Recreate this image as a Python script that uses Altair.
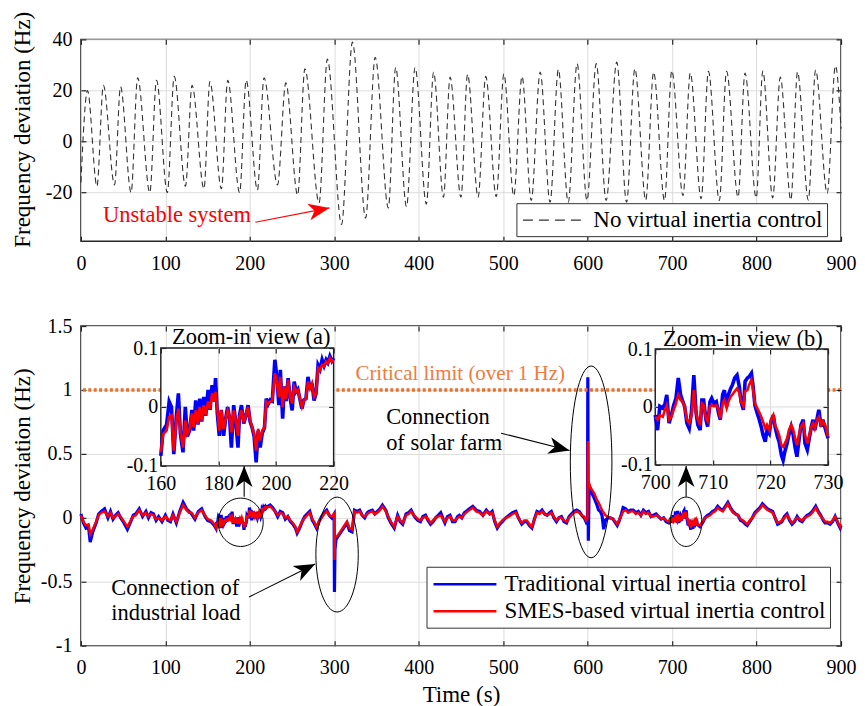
import altair as alt
import pandas as pd

FONT = "Liberation Serif"

PLOT_W = 761
TOP_H = 202
BOT_H = 320

TOP_NAME = "No virtual inertia control"
BLUE_NAME = "Traditional virtual inertia control"
RED_NAME = "SMES-based virtual inertia control"

# ---------------- top panel: peaks / troughs of the oscillation ----------------
top_time = [0, 7.8, 19, 26.6, 39.8, 46.9, 59.4, 67.2, 81.6, 89.5, 102.3, 110.5, 123.8, 131.6,
            145.7, 152.7, 166.4, 173.8, 187.9, 195.7, 209, 216.8, 232.8, 242.6, 256.6, 265.2,
            282, 291.8, 308.6, 321.5, 337.1, 348.4, 364, 372.7, 385.5, 395.7, 409, 417.6,
            429.3, 437.1, 450, 457.8, 470.3, 479.3, 491.8, 500.8, 512.5, 522.3, 533.2, 543.8,
            555.5, 565.3, 577, 587.5, 599.2, 610.2, 621.9, 634.4, 646.1, 655.9, 668.8, 678.1,
            691, 699.6, 712.9, 721.5, 734.4, 743, 755.9, 764.5, 778.1, 786.3, 799.6, 807.4,
            819.1, 828.1, 840.6, 848.5, 861.3, 869.9, 883.6, 893.4, 900]
top_freq = [-16, 20, -17.5, 22, -17, 21.5, -20, 25, -20, 24, -20, 25.5, -17.5, 22,
            -18.5, 23.5, -18.5, 24, -20, 24, -19, 25, -17, 23, -21, 28.5,
            -24, 32.3, -32.5, 39, -30, 33, -26, 29, -25.5, 29, -24.5, 27.2,
            -21.8, 25.2, -21.8, 26.3, -21.8, 25.5, -21.6, 26.5, -21.2, 25.5, -23.1, 27.2,
            -23.8, 28.2, -23.8, 30.5, -23.1, 30.5, -23.1, 31.1, -23.8, 28.5, -22.9, 27.2,
            -23.1, 27.8, -21.2, 26.8, -22.4, 27.5, -23.1, 27.5, -21.8, 26.8, -22.1, 27.6,
            -22.1, 25.2, -22.9, 27.2, -22.9, 28.0, -20.3, 29.7, 5]

# ---------------- bottom panel: traditional (blue) and SMES (red) ----------------
seg1_t = [0, 3, 6, 9, 11, 14, 18, 21, 24, 28,
          32, 35, 38, 41, 44, 47, 51, 55, 59, 62,
          65, 69, 73, 77, 80, 83, 86, 89, 92, 96,
          100, 103, 106, 109, 113, 117, 121, 125, 128, 131,
          135, 139, 143, 147, 150, 154, 158]
seg1_red = [0.02, -0.03, -0.06, -0.05, -0.13, -0.09, -0.03, 0.02, 0.04, 0.05,
            0.01, 0.04, 0.0, 0.01, 0.03, 0.01, -0.03, -0.07, -0.02, 0.01,
            0.02, 0.06, 0.02, 0.04, 0.01, 0.03, 0.02, -0.01, 0.0, -0.02,
            0.01, -0.01, -0.02, 0.02, -0.03, 0.04, 0.1, 0.06, 0.04, 0.04,
            0.0, 0.04, 0.06, 0.02, -0.01, -0.02, -0.05]
seg1_blue = [0.03, -0.04, -0.08, -0.07, -0.19, -0.11, -0.04, 0.03, 0.05, 0.07,
             0.0, 0.05, -0.01, 0.02, 0.04, 0.0, -0.04, -0.09, -0.03, 0.02,
             0.03, 0.07, 0.01, 0.05, 0.0, 0.04, 0.03, -0.02, 0.01, -0.03,
             0.02, -0.02, -0.03, 0.03, -0.04, 0.05, 0.12, 0.07, 0.05, 0.03,
             -0.01, 0.05, 0.07, 0.01, -0.02, -0.03, -0.06]

zoomA_t = [160.0, 160.8, 162.0, 162.9, 163.7, 164.5, 165.4, 166.1, 166.8, 167.7,
           168.5, 169.2, 170.0, 170.8, 171.4, 172.1, 172.9, 173.5, 174.2, 174.9,
           175.6, 176.4, 177.1, 177.8, 178.5, 179.0, 179.6, 180.3, 181.0, 181.8,
           182.5, 183.2, 183.9, 184.5, 185.3, 186.0, 186.8, 187.3, 188.0, 188.8,
           189.7, 190.3, 191.0, 191.7, 192.4, 193.1, 193.8, 194.5, 195.2, 196.0,
           196.6, 197.3, 198.0, 198.7, 199.6, 200.3, 201.0, 201.5, 202.3, 202.9,
           203.5, 204.2, 204.9, 205.6, 206.3, 207.0, 207.6, 208.3, 209.0, 209.7,
           210.4, 211.1, 211.8, 212.5, 213.2, 213.9, 214.6, 215.3, 216.0, 216.7,
           217.4, 218.0, 218.7, 219.4, 220.0]
zoomA_red = [-0.077, -0.046, -0.040, -0.017, -0.014, -0.074, -0.023, -0.003, -0.040, -0.069,
             -0.023, -0.046, -0.037, -0.011, -0.034, -0.006, -0.029, 0.0, -0.023, 0.003,
             -0.014, 0.009, -0.003, 0.023, 0.009, 0.026, -0.003, -0.040, -0.006, -0.037,
             -0.020, -0.006, -0.017, -0.043, -0.006, -0.023, -0.049, -0.017, -0.006, -0.026,
             -0.011, 0.0, -0.023, -0.034, -0.046, -0.074, -0.037, -0.057, -0.040, -0.034,
             0.009, 0.006, 0.009, 0.011, 0.057, 0.043, 0.017, 0.051, 0.0, 0.034,
             0.014, 0.046, 0.017, 0.006, 0.034, 0.026, 0.029, 0.014, 0.0, 0.011,
             0.014, 0.043, 0.031, 0.040, 0.017, 0.023, 0.066, 0.063, 0.071, 0.069,
             0.077, 0.074, 0.083, 0.077, 0.080]
zoomA_blue = [-0.083, -0.040, -0.030, 0.009, 0.0, -0.080, -0.015, 0.023, -0.045, -0.077,
              0.0, -0.050, -0.040, -0.005, -0.040, 0.011, -0.030, 0.014, -0.025, 0.017,
              -0.015, 0.029, -0.005, 0.037, 0.012, 0.049, -0.010, -0.049, -0.005, -0.049,
              -0.020, 0.0, -0.020, -0.069, 0.003, -0.025, -0.069, -0.015, 0.003, -0.028,
              -0.012, 0.003, -0.025, -0.035, -0.050, -0.094, -0.040, -0.069, -0.045, -0.035,
              0.014, 0.005, 0.012, 0.010, 0.080, 0.050, 0.003, 0.063, -0.020, 0.035,
              0.010, 0.049, 0.015, -0.006, 0.043, 0.026, 0.030, 0.013, -0.003, 0.012,
              0.014, 0.051, 0.030, 0.040, 0.011, 0.023, 0.071, 0.064, 0.080, 0.070,
              0.080, 0.075, 0.086, 0.078, 0.083]

seg2_t = [224, 227, 230, 233, 236, 239, 242, 245, 248, 251,
          254, 256, 259, 262, 265, 268, 271, 274, 276, 279,
          282, 285, 288, 291, 294, 297, 299.8, 300.2, 300.8, 302,
          304, 307, 311, 315, 318, 321, 324, 327, 330, 333,
          336, 339, 341, 345, 348, 351, 354, 357, 361, 364,
          367, 371, 375, 378, 381, 385, 388, 391, 394, 396,
          399, 402, 405, 408, 411, 414, 417, 420, 423, 426,
          429, 431, 434, 437, 440, 443, 446, 448, 451, 454,
          456, 460, 464, 468, 472, 476, 480, 484, 487, 490,
          493, 496, 499, 503, 507, 511, 515, 518, 522, 525,
          528, 531, 534, 537, 540, 543, 546, 549, 552, 555,
          557, 560, 563, 566, 569, 572, 575, 578, 581, 584,
          587, 590, 593, 596, 598, 599.8, 600.2, 600.8, 601.8, 602.5,
          604, 606, 608, 611, 613, 615, 617, 619, 621, 624,
          627, 630, 633, 635, 637, 640, 642, 645, 648, 651,
          654, 657, 660, 663, 666, 669, 672, 675, 678, 681,
          684, 687, 690, 693, 696, 698]
seg2_red = [0.09, 0.07, 0.05, 0.02, 0.04, 0.03, 0.0, 0.01, -0.02, -0.04,
            -0.07, -0.11, -0.07, -0.03, 0.0, 0.02, 0.04, -0.01, -0.03, -0.07,
            -0.03, 0.0, 0.03, 0.05, 0.02, 0.01, 0.03, -0.33, -0.16, -0.15,
            -0.14, -0.11, -0.07, -0.03, -0.08, -0.09, 0.05, 0.04, 0.05, 0.02,
            0.01, 0.03, 0.04, 0.05, 0.03, 0.04, 0.06, 0.09, 0.05, 0.01,
            -0.03, -0.07, 0.01, -0.02, -0.04, 0.02, 0.03, 0.05, 0.02, 0.01,
            -0.01, -0.02, 0.0, 0.01, -0.01, -0.04, -0.02, 0.0, 0.01, 0.02,
            -0.01, -0.03, 0.0, 0.01, -0.02, -0.02, 0.0, 0.01, 0.0, 0.03,
            0.04, 0.06, 0.08, 0.05, 0.04, 0.02, 0.05, 0.03, 0.04, -0.02,
            -0.07, -0.04, -0.02, 0.0, 0.01, 0.03, 0.04, 0.0, -0.04, -0.02,
            -0.02, -0.05, -0.07, -0.01, 0.04, 0.03, 0.05, 0.03, 0.02, 0.03,
            0.04, 0.01, -0.02, 0.0, 0.0, -0.02, -0.03, 0.0, 0.02, 0.04,
            0.05, 0.04, 0.02, 0.01, -0.02, 0.0, 0.60, 0.29, 0.27, 0.25,
            0.23, 0.21, 0.19, 0.14, 0.12, 0.09, 0.06, 0.04, 0.02, 0.01,
            0.0, -0.01, -0.03, -0.05, -0.02, 0.02, 0.05, 0.06, 0.04, 0.05,
            0.05, 0.03, 0.04, 0.02, 0.05, 0.03, 0.04, 0.01, 0.01, 0.02,
            0.01, -0.01, 0.0, -0.02, -0.03, -0.01]
seg2_blue = [0.10, 0.08, 0.05, 0.01, 0.05, 0.04, -0.01, 0.01, -0.03, -0.05,
             -0.08, -0.12, -0.08, -0.03, 0.01, 0.03, 0.05, -0.02, -0.04, -0.08,
             -0.03, 0.01, 0.04, 0.06, 0.02, 0.0, 0.03, -0.58, -0.25, -0.17,
             -0.15, -0.12, -0.08, -0.04, -0.10, -0.11, 0.06, 0.05, 0.06, 0.02,
             0.0, 0.04, 0.05, 0.06, 0.03, 0.05, 0.07, 0.10, 0.06, 0.0,
             -0.04, -0.08, 0.02, -0.03, -0.05, 0.03, 0.04, 0.06, 0.02, 0.0,
             -0.02, -0.03, 0.01, 0.02, -0.02, -0.05, -0.03, 0.0, 0.02, 0.04,
             -0.01, -0.04, 0.01, 0.02, -0.03, -0.03, 0.01, 0.02, 0.0, 0.04,
             0.05, 0.07, 0.09, 0.06, 0.05, 0.02, 0.06, 0.03, 0.05, -0.03,
             -0.08, -0.05, -0.03, 0.0, 0.02, 0.04, 0.05, 0.0, -0.05, -0.03,
             -0.03, -0.06, -0.08, -0.01, 0.05, 0.04, 0.06, 0.03, 0.02, 0.04,
             0.05, 0.0, -0.03, 0.0, 0.01, -0.03, -0.04, 0.01, 0.03, 0.05,
             0.06, 0.05, 0.02, 0.0, -0.03, 0.0, 1.10, -0.18, 0.26, 0.24,
             0.20, 0.18, 0.15, 0.10, 0.06, 0.05, 0.02, -0.09, -0.02, 0.0,
             0.0, -0.01, -0.04, -0.06, -0.03, 0.03, 0.08, 0.07, 0.05, 0.06,
             0.06, 0.04, 0.05, 0.02, 0.06, 0.04, 0.05, 0.01, 0.02, 0.03,
             0.01, -0.01, 0.0, -0.03, -0.04, -0.01]

zoomB_t = [700.0, 700.4, 700.8, 701.3, 701.7, 702.0, 702.4, 702.8, 703.2, 703.6,
           704.0, 704.4, 704.7, 705.1, 705.5, 705.9, 706.3, 706.7, 707.1, 707.4,
           707.8, 708.1, 708.4, 708.8, 709.1, 709.5, 709.8, 710.2, 710.6, 711.0,
           711.3, 711.7, 712.0, 712.4, 712.7, 713.1, 713.4, 713.8, 714.2, 714.6,
           714.9, 715.3, 715.6, 716.0, 716.3, 716.7, 717.0, 717.3, 717.7, 718.0,
           718.4, 718.7, 719.1, 719.4, 719.8, 720.1, 720.5, 720.8, 721.2, 721.5,
           721.9, 722.2, 722.5, 722.9, 723.2, 723.6, 723.9, 724.3, 724.6, 725.0,
           725.3, 725.7, 726.0, 726.4, 726.7, 727.1, 727.4, 727.7, 728.1, 728.4,
           728.8, 729.1, 729.5, 730.0]
zoomB_red = [-0.017, -0.022, -0.014, -0.017, -0.005, 0.003, -0.022, -0.017, -0.005, 0.006,
             0.021, 0.012, 0.009, 0.001, -0.022, -0.028, -0.014, 0.029, -0.011, -0.022,
             -0.031, 0.006, 0.003, -0.020, -0.025, 0.001, 0.003, 0.001, 0.003, -0.005,
             -0.020, 0.006, 0.012, -0.002, 0.009, 0.018, 0.021, 0.027, 0.032, 0.024,
             0.009, 0.001, 0.027, 0.029, 0.038, 0.047, 0.029, 0.006, -0.002, -0.008,
             -0.017, -0.025, -0.037, -0.031, -0.040, -0.022, -0.014, -0.031, -0.040, -0.048,
             -0.066, -0.069, -0.063, -0.054, -0.040, -0.031, -0.037, -0.054, -0.066, -0.046,
             -0.034, -0.028, -0.048, -0.063, -0.051, -0.034, -0.028, -0.037, -0.022, -0.017,
             -0.031, -0.025, -0.031, -0.051]
zoomB_blue = [-0.014, -0.040, 0.001, -0.002, 0.006, 0.021, -0.028, -0.014, 0.003, 0.015,
              0.050, 0.021, 0.012, 0.001, -0.028, -0.037, -0.008, 0.055, -0.011, -0.031,
              -0.040, 0.012, 0.012, -0.022, -0.034, 0.009, 0.015, 0.006, 0.009, -0.011,
              -0.022, 0.021, 0.029, 0.001, 0.021, 0.032, 0.038, 0.050, 0.055, 0.035,
              0.009, -0.005, 0.044, 0.050, 0.052, 0.058, 0.035, 0.003, -0.011, -0.020,
              -0.034, -0.048, -0.060, -0.040, -0.046, -0.025, -0.014, -0.034, -0.051, -0.060,
              -0.083, -0.092, -0.077, -0.063, -0.048, -0.034, -0.046, -0.071, -0.086, -0.054,
              -0.031, -0.022, -0.063, -0.074, -0.057, -0.034, -0.022, -0.040, -0.020, -0.005,
              -0.034, -0.022, -0.037, -0.054]

seg3_t = [733, 736, 739, 742, 745, 748, 751, 754, 757, 760,
          763, 766, 769, 772, 775, 778, 781, 784, 787, 789,
          792, 795, 798, 801, 804, 807, 810, 813, 816, 819,
          822, 825, 828, 830, 833, 836, 839, 842, 845, 848,
          851, 854, 857, 860, 863, 866, 870, 873, 876, 879,
          881, 884, 887, 890, 893, 896, 899, 900]
seg3_red = [-0.06, -0.03, 0.0, 0.01, 0.02, 0.04, 0.05, 0.08, 0.06, 0.05,
            0.08, 0.11, 0.07, 0.04, 0.03, 0.02, -0.01, -0.02, -0.04, -0.05,
            -0.02, 0.0, 0.03, 0.05, 0.07, 0.1, 0.08, 0.06, 0.05, 0.04,
            0.0, -0.04, -0.03, -0.02, 0.0, 0.02, -0.01, -0.04, -0.02, 0.0,
            -0.01, -0.02, 0.0, 0.01, 0.02, 0.04, 0.08, 0.04, 0.01, -0.01,
            -0.03, -0.03, -0.04, -0.02, 0.01, -0.03, -0.07, -0.05]
seg3_blue = [-0.07, -0.04, 0.0, 0.02, 0.03, 0.05, 0.06, 0.09, 0.07, 0.06,
             0.09, 0.12, 0.08, 0.05, 0.03, 0.02, -0.02, -0.03, -0.05, -0.06,
             -0.03, 0.0, 0.04, 0.06, 0.08, 0.11, 0.09, 0.07, 0.06, 0.05,
             0.0, -0.05, -0.04, -0.03, 0.01, 0.03, -0.02, -0.05, -0.03, 0.01,
             -0.02, -0.03, 0.0, 0.02, 0.03, 0.05, 0.09, 0.05, 0.02, -0.02,
             -0.04, -0.04, -0.05, -0.03, 0.01, -0.04, -0.08, -0.06]

# ---------------- annotations (data coordinates) ----------------
ell_x = [189.2, 303.3, 604.1, 716.6]
ell_y = [-0.035, -0.2875, 0.4375, -0.031]
ell_rx = [0.93, 0.369, 0.217, 0.636]
ell_size = [2343, 13225, 36864, 2440]

arr_x1 = [497.5, 199.1, 193.3, 716.6]
arr_y1 = [0.662, -0.619, 0.164, 0.164]
arr_x2 = [578.5, 277.3, 193.3, 716.6]
arr_y2 = [0.526, -0.362, 0.406, 0.406]
arr_ang = [14, 333.6, 270, 270]

bot_text = ["Connection", "of solar farm", "Connection of", "industrial load"]
bot_text_x = [361.4, 361.4, 36.0, 36.0]
bot_text_y = [0.734, 0.531, -0.602, -0.797]

HEAD = "M0,0L-1,-0.4L-0.72,0L-1,0.4Z"
LEG_SYM = "M-2.57,0H2.57"
LABEL_EXPR = "toString(datum.value)"
GRID = "#DCDCDC"
FRAME = "#262626"
XVALS = list(range(0, 901, 100))


def tick_axis(orient, offset, values):
    return alt.Axis(orient=orient, offset=offset, values=values, labels=False, domain=False,
                    grid=False, title=None, ticks=True, tickSize=5, tickColor=FRAME,
                    tickWidth=1.2, zindex=2)


def legend(x, y, dash=None, width=2.5):
    kw = dict(title=None, orient="none", legendX=x, legendY=y, fillColor="white",
              strokeColor="#333333", padding=4, rowPadding=1, labelFont=FONT,
              labelFontSize=23, labelColor="black", labelLimit=700, labelOffset=26,
              symbolOffset=21, symbolType=LEG_SYM, symbolSize=600, symbolStrokeWidth=width)
    if dash:
        kw["symbolDash"] = dash
    return alt.Legend(**kw)


# ================= TOP PANEL =================
top_df = pd.DataFrame({"t": top_time, "v": top_freq, "series": TOP_NAME})
tx = alt.Scale(domain=[0, 900], nice=False, zero=False)
ty = alt.Scale(domain=[-39, 40], nice=False, zero=False)
top_x_axis = alt.Axis(values=XVALS, labelExpr=LABEL_EXPR, title=None, grid=True, offset=-5,
                      ticks=True, tickSize=5, tickColor=FRAME, tickWidth=1.2,
                      domain=False, labelPadding=12, labelFlush=False, labelOverlap=False)
top_y_axis = alt.Axis(values=[-20, 0, 20, 40], labelExpr=LABEL_EXPR,
                      title="Frequency deviation (Hz)", grid=True, offset=-5,
                      ticks=True, tickSize=5, tickColor=FRAME, tickWidth=1.2, domain=False,
                      labelPadding=9, titleX=-63, titleY=90, titleBaseline="middle",
                      labelOverlap=False)
TX = dict(scale=tx, axis=top_x_axis)
TY = dict(scale=ty, axis=top_y_axis)

top_line = alt.Chart(top_df).mark_line(
    strokeDash=[6, 4], strokeWidth=1.1, interpolate="monotone"
).encode(
    x=alt.X("t:Q", **TX), y=alt.Y("v:Q", **TY),
    color=alt.Color("series:N", scale=alt.Scale(domain=[TOP_NAME], range=["#333333"]),
                    legend=legend(436, 164, dash=[10, 6], width=1.1)),
)

uns_df = pd.DataFrame({"t": [26.2], "v": [-31.7], "label": ["Unstable system"]})
top_text = alt.Chart(uns_df).mark_text(
    font=FONT, fontSize=22.5, color="#FF0000", align="left", baseline="alphabetic"
).encode(x=alt.X("t:Q", **TX), y=alt.Y("v:Q", **TY), text="label:N")

uarr_df = pd.DataFrame({"t": [206.5], "v": [-31.6], "t2": [294.2], "v2": [-26.0], "ang": [349]})
top_arrow = alt.Chart(uarr_df).mark_rule(color="#FF0000", strokeWidth=1.2).encode(
    x=alt.X("t:Q", **TX), y=alt.Y("v:Q", **TY), x2="t2:Q", y2="v2:Q")
top_head = alt.Chart(uarr_df).mark_point(
    shape=HEAD, size=1764, filled=True, color="#FF0000", opacity=1
).encode(x=alt.X("t2:Q", **TX), y=alt.Y("v2:Q", **TY), angle=alt.Angle("ang:Q", scale=None))

top_main = alt.layer(top_line, top_text, top_arrow, top_head)
top_ticks = alt.Chart(top_df).mark_line(opacity=0).encode(
    x=alt.X("t:Q", scale=alt.Scale(domain=[0, 900], nice=False, zero=False),
            axis=tick_axis("top", -5, XVALS)),
    y=alt.Y("v:Q", scale=alt.Scale(domain=[-39, 40], nice=False, zero=False),
            axis=tick_axis("right", -5, [-20, 0, 20, 40])))
top = alt.layer(top_main, top_ticks).resolve_scale(
    x="independent", y="independent").properties(width=PLOT_W, height=TOP_H)

# ================= BOTTOM PANEL =================
main_t = seg1_t + zoomA_t + seg2_t + zoomB_t + seg3_t
main_red = seg1_red + zoomA_red + seg2_red + zoomB_red + seg3_red
main_blue = seg1_blue + zoomA_blue + seg2_blue + zoomB_blue + seg3_blue

blue_df = pd.DataFrame({"t": main_t, "v": main_blue, "series": BLUE_NAME})
red_df = pd.DataFrame({"t": main_t, "v": main_red, "series": RED_NAME})

bx = alt.Scale(domain=[0, 900], nice=False, zero=False)
by = alt.Scale(domain=[-1, 1.5], nice=False, zero=False)
cscale = alt.Scale(domain=[BLUE_NAME, RED_NAME], range=["#0000FF", "#FF0000"])
YVALS = [-1, -0.5, 0, 0.5, 1, 1.5]

main_x_axis = alt.Axis(values=XVALS, labelExpr=LABEL_EXPR, title="Time (s)", grid=True,
                       offset=-5, ticks=True, tickSize=5, tickColor=FRAME, tickWidth=1.2,
                       domain=False, labelPadding=12, labelFlush=False, labelOverlap=False,
                       titlePadding=6)
main_y_axis = alt.Axis(values=YVALS, labelExpr=LABEL_EXPR, title="Frequency deviation (Hz)",
                       grid=True, offset=-5, ticks=True, tickSize=5, tickColor=FRAME,
                       tickWidth=1.2, domain=False, labelPadding=9, titleX=-63,
                       titleBaseline="middle", labelOverlap=False)
MX = dict(scale=bx, axis=main_x_axis)
MY = dict(scale=by, axis=main_y_axis)

bot_legend = legend(346, 241)

blue_line = alt.Chart(blue_df).mark_line(strokeWidth=3.2).encode(
    x=alt.X("t:Q", **MX), y=alt.Y("v:Q", **MY),
    color=alt.Color("series:N", scale=cscale, legend=bot_legend))
red_line = alt.Chart(red_df).mark_line(strokeWidth=2.4).encode(
    x=alt.X("t:Q", **MX), y=alt.Y("v:Q", **MY),
    color=alt.Color("series:N", scale=cscale, legend=bot_legend))

crit_rule = alt.Chart(pd.DataFrame({"v": [1.0]})).mark_rule(
    color="#E8702A", strokeWidth=3.5, strokeDash=[3, 2.4]
).encode(y=alt.Y("v:Q", **MY))
crit_text = alt.Chart(pd.DataFrame({"t": [325.0], "v": [1.078],
                                    "label": ["Critical limit (over 1 Hz)"]})).mark_text(
    font=FONT, fontSize=21, color="#F07B3F", align="left", baseline="alphabetic"
).encode(x=alt.X("t:Q", **MX), y=alt.Y("v:Q", **MY), text="label:N")

ellipses = []
for ex, ey, erx, es in zip(ell_x, ell_y, ell_rx, ell_size):
    path = f"M{-erx},0 A{erx},1 0 0 1 {erx},0 A{erx},1 0 0 1 {-erx},0 Z"
    ellipses.append(
        alt.Chart(pd.DataFrame({"t": [ex], "v": [ey]})).mark_point(
            shape=path, size=es, filled=False, color="black", strokeWidth=1, opacity=1
        ).encode(x=alt.X("t:Q", **MX), y=alt.Y("v:Q", **MY)))

arr_df = pd.DataFrame({"t": arr_x1, "v": arr_y1, "t2": arr_x2, "v2": arr_y2, "ang": arr_ang})
arr_lines = alt.Chart(arr_df).mark_rule(color="black", strokeWidth=1.1).encode(
    x=alt.X("t:Q", **MX), y=alt.Y("v:Q", **MY), x2="t2:Q", y2="v2:Q")
arr_heads = alt.Chart(arr_df).mark_point(
    shape=HEAD, size=1764, filled=True, color="black", opacity=1
).encode(x=alt.X("t2:Q", **MX), y=alt.Y("v2:Q", **MY), angle=alt.Angle("ang:Q", scale=None))

btxt_df = pd.DataFrame({"t": bot_text_x, "v": bot_text_y, "label": bot_text})
bot_texts = alt.Chart(btxt_df).mark_text(
    font=FONT, fontSize=22.5, color="black", align="left", baseline="alphabetic"
).encode(x=alt.X("t:Q", **MX), y=alt.Y("v:Q", **MY), text="label:N")

main_layer = alt.layer(blue_line, red_line, crit_rule, crit_text, *ellipses,
                       arr_lines, arr_heads, bot_texts)
main_ticks = alt.Chart(red_df).mark_line(opacity=0).encode(
    x=alt.X("t:Q", scale=alt.Scale(domain=[0, 900], nice=False, zero=False),
            axis=tick_axis("top", -5, XVALS)),
    y=alt.Y("v:Q", scale=alt.Scale(domain=[-1, 1.5], nice=False, zero=False),
            axis=tick_axis("right", -5, YVALS)))


def inset(t, red, blue, dom, xr, yr, xvals, grid_x, title, title_x, title_y):
    sx = alt.Scale(domain=dom, range=xr, nice=False, zero=False)
    sy = alt.Scale(domain=[-0.1, 0.1], range=yr, nice=False, zero=False)
    ax = alt.Axis(orient="bottom", offset=yr[0] - 5 - BOT_H, values=xvals, labelExpr=LABEL_EXPR,
                  title=None, grid=False, ticks=True, tickSize=5, tickColor=FRAME, tickWidth=1.2,
                  domain=False, labelPadding=8, labelFlush=False, labelOverlap=False, zindex=2)
    ay = alt.Axis(orient="left", offset=-(xr[0] + 5), values=[-0.1, 0, 0.1],
                  labelExpr=LABEL_EXPR, title=None, grid=False, ticks=True, tickSize=5,
                  tickColor=FRAME, tickWidth=1.2, domain=False, labelPadding=3,
                  labelOverlap=False, labelFlush=False, zindex=2)
    IX = dict(scale=sx, axis=ax)
    IY = dict(scale=sy, axis=ay)
    frame_df = pd.DataFrame({"t": [dom[0]], "t2": [dom[1]], "v": [-0.1], "v2": [0.1]})
    frame = alt.Chart(frame_df).mark_rect(fill="white", stroke="#1a1a1a", strokeWidth=1.4).encode(
        x=alt.X("t:Q", **IX), x2="t2:Q", y=alt.Y("v:Q", **IY), y2="v2:Q")
    gx_df = pd.DataFrame({"t": grid_x, "v": [-0.1] * len(grid_x), "v2": [0.1] * len(grid_x)})
    gx = alt.Chart(gx_df).mark_rule(color=GRID, strokeWidth=1).encode(
        x=alt.X("t:Q", **IX), y=alt.Y("v:Q", **IY), y2="v2:Q")
    gy_df = pd.DataFrame({"t": [dom[0]], "t2": [dom[1]], "v": [0.0]})
    gy = alt.Chart(gy_df).mark_rule(color=GRID, strokeWidth=1).encode(
        x=alt.X("t:Q", **IX), x2="t2:Q", y=alt.Y("v:Q", **IY))
    bdf = pd.DataFrame({"t": t, "v": blue, "series": BLUE_NAME})
    rdf = pd.DataFrame({"t": t, "v": red, "series": RED_NAME})
    bl = alt.Chart(bdf).mark_line(strokeWidth=3.6).encode(
        x=alt.X("t:Q", **IX), y=alt.Y("v:Q", **IY),
        color=alt.Color("series:N", scale=cscale, legend=None))
    rl = alt.Chart(rdf).mark_line(strokeWidth=2.6).encode(
        x=alt.X("t:Q", **IX), y=alt.Y("v:Q", **IY),
        color=alt.Color("series:N", scale=cscale, legend=None))
    ttl = alt.Chart(pd.DataFrame({"t": [title_x], "v": [title_y], "label": [title]})).mark_text(
        font=FONT, fontSize=22.5, color="black", align="center", baseline="alphabetic"
    ).encode(x=alt.X("t:Q", **IX), y=alt.Y("v:Q", **IY), text="label:N")
    body = alt.layer(frame, gx, gy, bl, rl, ttl)
    ticks = alt.Chart(rdf).mark_line(opacity=0).encode(
        x=alt.X("t:Q", scale=alt.Scale(domain=dom, range=xr, nice=False, zero=False),
                axis=tick_axis("top", -(yr[1] + 5), xvals)),
        y=alt.Y("v:Q", scale=alt.Scale(domain=[-0.1, 0.1], range=yr, nice=False, zero=False),
                axis=tick_axis("right", xr[1] - 5 - PLOT_W, [-0.1, 0, 0.1])))
    return body, ticks


inset_a, ticks_a = inset(zoomA_t, zoomA_red, zoomA_blue, [160, 220], [80, 253], [140, 22],
                         [160, 180, 200, 220], [180, 200], "Zoom-in view (a)", 191.4, 0.1068)
inset_b, ticks_b = inset(zoomB_t, zoomB_red, zoomB_blue, [700, 730], [575, 748], [139, 23],
                         [700, 710, 720, 730], [710, 720], "Zoom-in view (b)", 715.2, 0.105)

bottom = alt.layer(main_layer, main_ticks, inset_a, ticks_a, inset_b, ticks_b).resolve_scale(
    x="independent", y="independent"
).properties(width=PLOT_W, height=BOT_H)

chart = alt.vconcat(top, bottom, spacing=41).resolve_scale(
    color="independent"
).resolve_legend(color="independent").properties(
    padding={"left": 3, "top": 2, "right": 0, "bottom": 0}
).configure_axis(
    labelFont=FONT, titleFont=FONT, labelFontSize=20, titleFontSize=23,
    titleFontWeight="normal", labelColor="black", titleColor="black", gridColor=GRID, gridWidth=1
).configure_view(stroke=FRAME, strokeWidth=1.5)

chart.save("out.html", embed_options={"renderer": "svg", "actions": False})
